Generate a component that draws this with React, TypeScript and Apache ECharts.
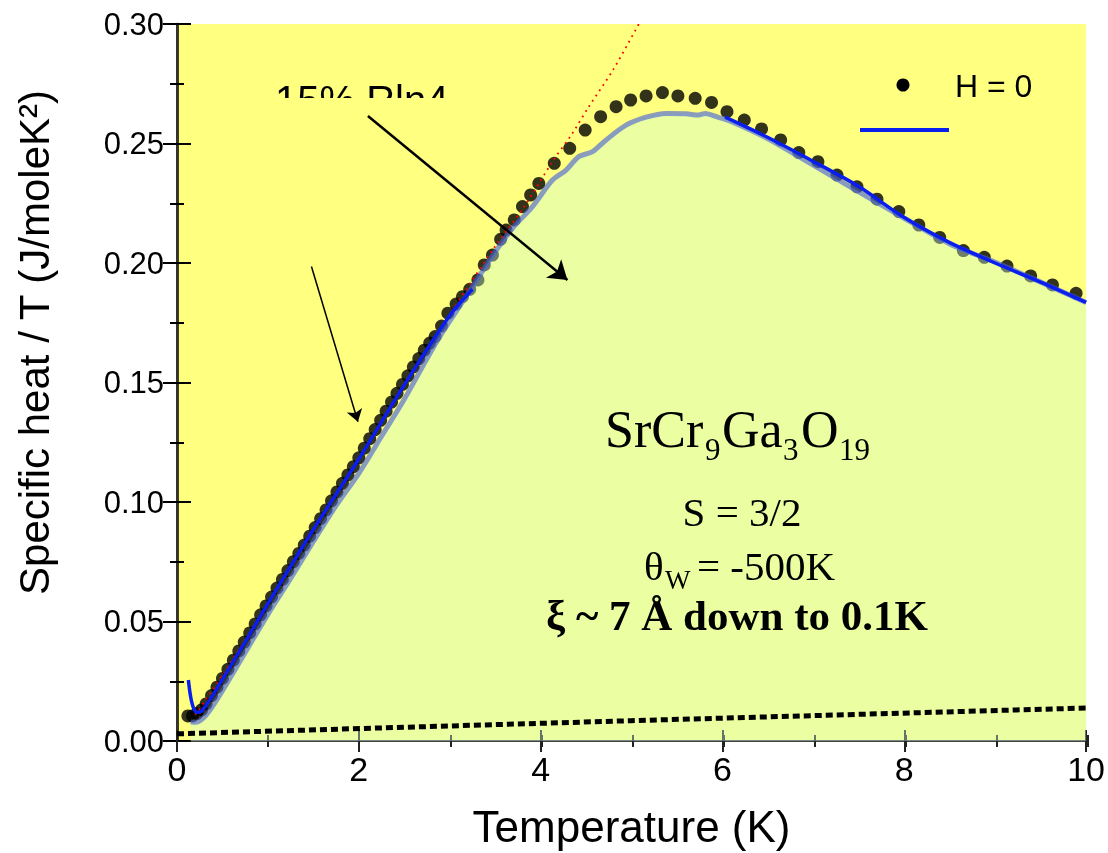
import React, { useEffect, useRef } from "react";
import * as echarts from "echarts";

// Measured data (H = 0), T in K, C/T in J/moleK^2
const dotT = [0.12, 0.17, 0.22, 0.27, 0.32, 0.38, 0.44, 0.5, 0.56, 0.62, 0.68, 0.74, 0.8, 0.86, 0.92, 0.98, 1.04, 1.1, 1.16, 1.22, 1.28, 1.34, 1.4, 1.46, 1.52, 1.58, 1.64, 1.7, 1.76, 1.82, 1.88, 1.94, 2.0, 2.06, 2.12, 2.18, 2.24, 2.3, 2.36, 2.42, 2.48, 2.54, 2.6, 2.66, 2.72, 2.78, 2.84, 2.91, 2.98, 3.07, 3.14, 3.22, 3.31, 3.38, 3.47, 3.56, 3.62, 3.71, 3.8, 3.89, 3.98, 4.15, 4.32, 4.49, 4.66, 4.83, 4.99, 5.16, 5.34, 5.51, 5.7, 5.88, 6.05, 6.24, 6.43, 6.64, 6.84, 7.05, 7.26, 7.48, 7.7, 7.94, 8.16, 8.39, 8.65, 8.88, 9.13, 9.39, 9.63, 9.89];
const dotV = [0.0105, 0.0105, 0.0115, 0.013, 0.0155, 0.019, 0.0225, 0.0262, 0.03, 0.0338, 0.0377, 0.0414, 0.0452, 0.049, 0.0528, 0.0565, 0.0602, 0.064, 0.0676, 0.0713, 0.075, 0.0785, 0.082, 0.0857, 0.0893, 0.093, 0.0967, 0.1005, 0.1042, 0.1078, 0.1113, 0.1148, 0.1185, 0.1225, 0.1265, 0.1303, 0.1342, 0.138, 0.1418, 0.1455, 0.1492, 0.1528, 0.1565, 0.16, 0.1635, 0.1665, 0.1692, 0.1736, 0.179, 0.1828, 0.1859, 0.189, 0.1929, 0.1992, 0.2033, 0.2099, 0.2138, 0.218, 0.2236, 0.2285, 0.2333, 0.2417, 0.248, 0.2556, 0.2612, 0.2654, 0.2682, 0.2699, 0.2713, 0.2699, 0.2689, 0.2672, 0.2633, 0.2598, 0.2561, 0.2515, 0.2462, 0.2424, 0.2368, 0.2319, 0.2267, 0.2215, 0.2159, 0.2107, 0.2052, 0.2024, 0.1987, 0.1946, 0.1908, 0.1873];

// Shaded (green) region boundary
const areaT = [0.15, 0.2, 0.3, 0.4, 0.5, 0.75, 1.0, 1.25, 1.5, 1.75, 2.0, 2.25, 2.5, 2.75, 2.89, 3.18, 3.47, 3.69, 3.91, 4.13, 4.28, 4.42, 4.57, 4.72, 4.94, 5.16, 5.38, 5.6, 5.74, 5.81, 5.95, 6.1, 6.5, 6.84, 7.4, 7.94, 8.5, 9.03, 9.5, 10.0];
const areaV = [0.008, 0.0078, 0.01, 0.015, 0.021, 0.037, 0.053, 0.068, 0.0835, 0.0985, 0.112, 0.1275, 0.143, 0.16, 0.1692, 0.186, 0.203, 0.2145, 0.2236, 0.2347, 0.2389, 0.2445, 0.2466, 0.2515, 0.2577, 0.261, 0.2626, 0.2624, 0.2619, 0.2626, 0.261, 0.2591, 0.252, 0.2445, 0.232, 0.2201, 0.208, 0.1999, 0.192, 0.1835];

// Blue curve (two visible parts)
const blueLowT = [0.125, 0.15, 0.18, 0.22, 0.27, 0.32, 0.4, 0.5, 0.75, 1.0, 1.5, 2.0, 2.5, 3.0, 3.25];
const blueLowV = [0.0255, 0.0185, 0.014, 0.012, 0.0125, 0.015, 0.0195, 0.0258, 0.0415, 0.0575, 0.0885, 0.118, 0.149, 0.178, 0.189];
const blueHighT = [6.03, 6.5, 7.0, 7.5, 8.0, 8.5, 9.0, 9.5, 10.0];
const blueHighV = [0.261, 0.2525, 0.2425, 0.232, 0.219, 0.2085, 0.2, 0.192, 0.1835];

// Red dotted line
const redT = [0.2, 0.5, 1.0, 1.5, 2.0, 2.5, 3.0, 3.5, 3.82, 4.13, 4.35, 4.53, 4.8, 5.08];
const redV = [0.011, 0.0275, 0.0575, 0.088, 0.118, 0.149, 0.1785, 0.207, 0.2236, 0.2424, 0.2543, 0.2654, 0.281, 0.3];

// Black dotted baseline
const baseT = [0, 5, 10];
const baseV = [0.003, 0.0085, 0.0138];

// Arrows [T, C/T]
const arrow1 = [[2.1, 0.2615], [4.295, 0.1929]];
const arrow2 = [[1.479, 0.1985], [1.99, 0.1336]];

const xMin = 0, xMax = 10, xStep = 2, xMinorStep = 1;
const yMin = 0, yMax = 0.3, yStep = 0.05, yMinorStep = 0.025;

const zip = (a: number[], b: number[]) => a.map((t, i) => [t, b[i]]);

const SANS = '"Liberation Sans", Arial, sans-serif';
const SERIF = '"Liberation Serif", "Times New Roman", serif';
const YELLOW = "#FFFF80";

function serifText(text: string, x: number, baseline: number, fs: number, opts: any = {}) {
  const align = opts.align || "left";
  return {
    type: "text",
    x,
    y: baseline - 0.34 * fs,
    z: 100,
    silent: true,
    style: {
      text,
      fill: "#000",
      font: `${opts.bold ? "bold " : ""}${fs}px ${opts.family || SERIF}`,
      align,
      textAlign: align,
      verticalAlign: "middle",
      textVerticalAlign: "middle",
    },
  };
}

export default function App() {
  const ref = useRef<HTMLDivElement>(null);
  useEffect(() => {
    if (!ref.current) return;
    const chart = echarts.init(ref.current, undefined, { renderer: "svg" });
    const axisLine = (w: number, c: string) => ({ show: true, lineStyle: { color: c, width: w } });
    const xCommon = {
      type: "value",
      min: xMin,
      max: xMax,
      interval: xStep,
      splitLine: { show: false },
      axisTick: { show: true, inside: true, length: 11, lineStyle: { color: "#222", width: 2 } },
      minorTick: { show: false },
    };
    const yCommon = {
      type: "value",
      min: yMin,
      max: yMax,
      interval: yStep,
      splitLine: { show: false },
      axisTick: { show: true, inside: true, length: 14, lineStyle: { color: "#000", width: 2 } },
      minorTick: { show: false },
    };
    // second, invisible grid carrying only the short (minor) ticks
    const xMinor = (pos: string) => ({
      type: "value",
      gridIndex: 1,
      position: pos,
      min: xMin,
      max: xMax,
      interval: xMinorStep,
      axisLine: { show: false },
      axisLabel: { show: false },
      splitLine: { show: false },
      axisTick: { show: true, inside: true, length: 6, lineStyle: { color: "#222", width: 2 } },
    });
    const yMinor = (pos: string) => ({
      type: "value",
      gridIndex: 1,
      position: pos,
      min: yMin,
      max: yMax,
      interval: yMinorStep,
      axisLine: { show: false },
      axisLabel: { show: false },
      splitLine: { show: false },
      axisTick: { show: true, inside: true, length: 7, lineStyle: { color: "#000", width: 2 } },
    });
    const gridBox = { left: 177, right: 20, top: 24, bottom: 112 };
    const option: any = {
      animation: false,
      grid: [
        { ...gridBox, show: true, backgroundColor: YELLOW, borderWidth: 0 },
        { ...gridBox, show: false },
      ],
      xAxis: [
        {
          ...xCommon,
          position: "bottom",
          axisLine: axisLine(2, "#222"),
          axisLabel: { fontSize: 34, color: "#000", fontFamily: SANS, margin: 11 },
          name: "Temperature (K)",
          nameLocation: "middle",
          nameGap: 63,
          nameTextStyle: { fontSize: 44, color: "#000", fontFamily: SANS },
        },
        { ...xCommon, position: "top", axisLine: axisLine(2, "#444"), axisLabel: { show: false } },
        xMinor("bottom"),
        xMinor("top"),
      ],
      yAxis: [
        {
          ...yCommon,
          position: "left",
          axisLine: axisLine(2.5, "#000"),
          axisLabel: { fontSize: 31, color: "#000", fontFamily: SANS, margin: 13, formatter: (v: number) => v.toFixed(2) },
          name: "Specific heat / T (J/moleK²)",
          nameLocation: "middle",
          nameGap: 122,
          nameTextStyle: { fontSize: 42, color: "#000", fontFamily: SANS, padding: [0, 0, 0, 80] },
        },
        { ...yCommon, position: "right", axisLine: axisLine(2, "#333"), axisLabel: { show: false } },
        yMinor("left"),
        yMinor("right"),
      ],
      series: [
        {
          type: "scatter",
          name: "H = 0",
          z: 2,
          symbol: "circle",
          symbolSize: 13,
          itemStyle: { color: "#000" },
          data: zip(dotT, dotV),
          silent: true,
        },
        {
          type: "line",
          name: "shaded",
          z: 3,
          showSymbol: false,
          symbol: "none",
          smooth: 0.3,
          lineStyle: { color: "rgba(70,95,215,0.62)", width: 5 },
          areaStyle: { color: "rgba(205,252,215,0.55)", origin: "start" },
          data: zip(areaT, areaV),
          silent: true,
        },
        {
          type: "line",
          name: "baseline",
          z: 4,
          symbol: "none",
          lineStyle: { color: "#000", width: 5, type: [7, 4], cap: "butt" },
          data: zip(baseT, baseV),
          silent: true,
        },
        {
          type: "line",
          name: "linear",
          z: 5,
          symbol: "none",
          smooth: 0.3,
          lineStyle: { color: "#FF0000", width: 1.8, type: [1.8, 4.5] },
          data: zip(redT, redV),
          silent: true,
          markLine: {
            silent: true,
            symbol: ["none", "arrow"],
            symbolSize: 12,
            label: { show: false },
            lineStyle: { color: "#000", width: 1.5, type: "solid" },
            emphasis: { disabled: true },
            data: [[{ coord: arrow2[0] }, { coord: arrow2[1] }]],
          },
        },
        {
          type: "line",
          name: "fit low",
          z: 6,
          symbol: "none",
          smooth: 0.3,
          lineStyle: { color: "#0A1EF0", width: 3.5 },
          data: zip(blueLowT, blueLowV),
          silent: true,
          markLine: {
            silent: true,
            symbol: ["none", "arrow"],
            symbolSize: 18,
            label: { show: false },
            lineStyle: { color: "#000", width: 2.5, type: "solid" },
            emphasis: { disabled: true },
            data: [[{ coord: arrow1[0] }, { coord: arrow1[1] }]],
          },
        },
        {
          type: "line",
          name: "fit high",
          z: 6,
          symbol: "none",
          smooth: 0.3,
          lineStyle: { color: "#0A1EF0", width: 3.5 },
          data: zip(blueHighT, blueHighV),
          silent: true,
        },
      ],
      graphic: [
        // partially hidden annotation
        serifText("15% Rln4", 275, 113.6, 40, { family: SANS }),
        { type: "rect", z: 101, silent: true, shape: { x: 268, y: 98, width: 200, height: 17 }, style: { fill: YELLOW } },
        // compound formula
        serifText("SrCr", 605, 447, 52),
        serifText("9", 705, 460, 31),
        serifText("Ga", 722, 447, 52),
        serifText("3", 783, 460, 31),
        serifText("O", 801, 447, 52),
        serifText("19", 839, 460, 31),
        serifText("S = 3/2", 742, 526, 41, { align: "center" }),
        serifText("θ", 644, 580, 41),
        serifText("W", 665, 589, 27),
        serifText("= -500K", 697, 580, 41),
        serifText("ξ ~ 7 Å down to 0.1K", 737, 630, 43, { align: "center", bold: true }),
        // legend
        { type: "circle", z: 100, silent: true, shape: { cx: 903, cy: 85, r: 6.5 }, style: { fill: "#000" } },
        serifText("H = 0", 955, 96.7, 32, { family: SANS }),
        { type: "line", z: 100, silent: true, shape: { x1: 860, y1: 130, x2: 949, y2: 130 }, style: { stroke: "#0A1EF0", lineWidth: 4 } },
      ],
    };
    chart.setOption(option);
    return () => chart.dispose();
  }, []);
  return <div ref={ref} style={{ position: "fixed", left: 0, top: 0, width: "1108px", height: "853px" }} />;
}
